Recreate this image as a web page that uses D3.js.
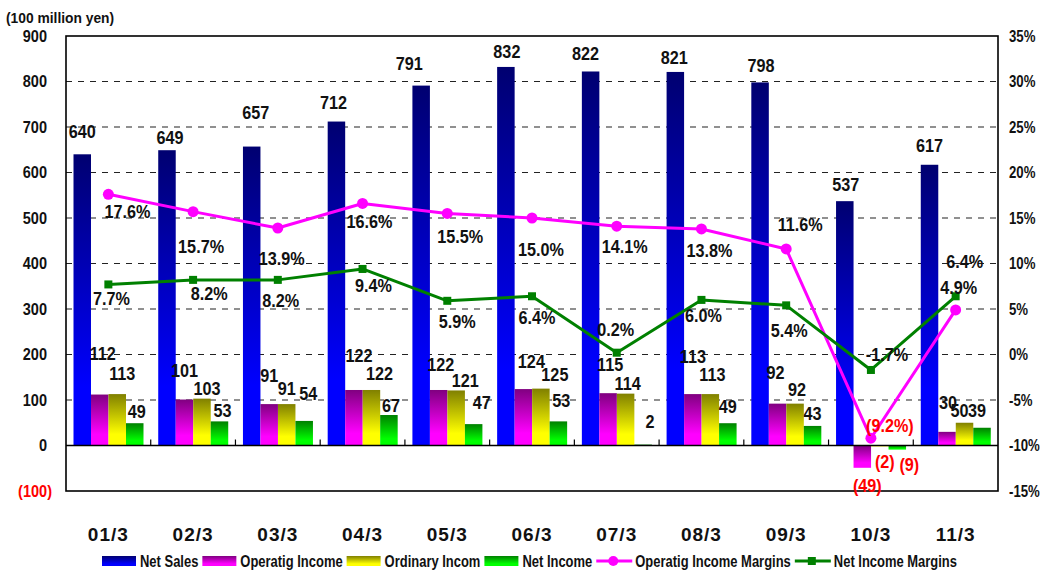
<!DOCTYPE html>
<html>
<head>
<meta charset="utf-8">
<script src="https://cdn.jsdelivr.net/npm/d3@7"></script>
<style>
  html, body { margin: 0; padding: 0; background: #ffffff; }
  svg { display: block; }
  text { font-family: 'Liberation Sans', Arial, sans-serif; font-weight: bold; fill: #111; }
</style>
</head>
<body>
<svg id="chart" width="1051" height="574"></svg>
<script>
// ---- data (100 million yen / %) ----
const categories = ["01/3", "02/3", "03/3", "04/3", "05/3", "06/3", "07/3", "08/3", "09/3", "10/3", "11/3"];
const netSales = [640, 649, 657, 712, 791, 832, 822, 821, 798, 537, 617];
const operatingIncome = [112, 101, 91, 122, 122, 124, 115, 113, 92, -49, 30];
const ordinaryIncome = [113, 103, 91, 122, 121, 125, 114, 113, 92, -2, 50];
const netIncome = [49, 53, 54, 67, 47, 53, 2, 49, 43, -9, 39];
const operatingMargin = [17.6, 15.7, 13.9, 16.6, 15.5, 15.0, 14.1, 13.8, 11.6, -9.2, 4.9];
const netMargin = [7.7, 8.2, 8.2, 9.4, 5.9, 6.4, 0.2, 6.0, 5.4, -1.7, 6.4];

const leftTicks = [900, 800, 700, 600, 500, 400, 300, 200, 100, 0, -100];
const leftTickLabels = ["900", "800", "700", "600", "500", "400", "300", "200", "100", "0", "(100)"];
const rightTicks = [35, 30, 25, 20, 15, 10, 5, 0, -5, -10, -15];
const rightTickLabels = ["35%", "30%", "25%", "20%", "15%", "10%", "5%", "0%", "-5%", "-10%", "-15%"];

const barSeries = ["Net Sales", "Operatig Income", "Ordinary Incom", "Net Income"];
const lineSeries = ["Operatig Income Margins", "Net Income Margins"];

// label nudges [dx, dy] from each mark's anchor, in pixels
const salesLabelShift = [[0,-23],[3,-13],[4,-34],[-3,-19],[-12,-22],[1,-15],[-5,-18],[-1,-14],[1,-17],[1,-17],[0,-19]];
const opLabelShift = [[3,-41],[0,-29],[0,-29],[5,-34],[2,-25],[8,-28],[2,-29],[0,-38],[-2,-31],[5,18],[1,-29]];
const ordLabelShift = [[5,-21],[5,-10],[0,-16],[8,-16],[9,-10],[14,-14],[2,-10],[2,-20],[2,-14],[5,15],[-5,-12]];
const netLabelShift = [[2,-12],[3,-11],[4,-27],[2,-9],[8,-22],[3,-21],[7,-23],[0,-17],[0,-12],[12,15],[-5,-17]];
const opMarginLabelShift = [[19,17],[8,35],[4,31],[7,18],[13,23],[9,32],[8,20],[8,22],[14,-24],[19,-13],[3,-22]];
const netMarginLabelShift = [[3,14],[16,14],[3,21],[11,17],[10,21],[5,21],[-1,-23],[2,16],[3,25],[16,-15],[9,-35]];

// ---- layout ----
const svg = d3.select("#chart");
const plot = { left: 66, right: 998, top: 36, bottom: 491 };

const x0 = d3.scaleBand().domain(categories).range([plot.left, plot.right]);
const x1 = d3.scaleBand().domain(barSeries).range([7.5, 77.5]);
const yL = d3.scaleLinear().domain([-100, 900]).range([plot.bottom, plot.top]);
const yR = d3.scaleLinear().domain([-15, 35]).range([plot.bottom, plot.top]);

const barColors = {
  "Net Sales": ["#000070", "#0000ff"],
  "Operatig Income": ["#800080", "#ff00ff"],
  "Ordinary Incom": ["#808000", "#ffff00"],
  "Net Income": ["#008000", "#00ff00"]
};
const lineColors = { "Operatig Income Margins": "#ff00ff", "Net Income Margins": "#008000" };

// horizontally condense text (narrow gothic look) by fixing its rendered length
function squeeze(sel, k) {
  sel.each(function () {
    const w = this.getComputedTextLength();
    this.setAttribute("textLength", (w * k).toFixed(2));
    this.setAttribute("lengthAdjust", "spacingAndGlyphs");
  });
  return sel;
}

// vertical gradients for the bars
const defs = svg.append("defs");
barSeries.forEach((s, i) => {
  const g = defs.append("linearGradient").attr("id", "grad" + i)
    .attr("x1", 0).attr("y1", 0).attr("x2", 0).attr("y2", 1);
  g.append("stop").attr("offset", "0%").attr("stop-color", barColors[s][0]);
  g.append("stop").attr("offset", i === 0 ? "80%" : "78%").attr("stop-color", barColors[s][1]);
  g.append("stop").attr("offset", "100%").attr("stop-color", barColors[s][1]);
});

svg.append("rect").attr("width", 1051).attr("height", 574).attr("fill", "#fff");

// dashed gridlines
svg.append("g").selectAll("line")
  .data(leftTicks.filter(v => v > 0 && v < 900))
  .join("line")
  .attr("x1", plot.left).attr("x2", plot.right)
  .attr("y1", d => yL(d)).attr("y2", d => yL(d))
  .attr("stroke", "#222").attr("stroke-width", 1.2)
  .attr("stroke-dasharray", "6,6");

// bars
const barData = [netSales, operatingIncome, ordinaryIncome, netIncome];
const barsG = svg.append("g");
barSeries.forEach((s, si) => {
  barsG.append("g").selectAll("rect")
    .data(categories.map((c, i) => ({ c, v: barData[si][i] })))
    .join("rect")
    .attr("x", d => x0(d.c) + x1(s))
    .attr("width", x1.bandwidth())
    .attr("y", d => yL(Math.max(0, d.v)))
    .attr("height", d => Math.abs(yL(d.v) - yL(0)))
    .attr("fill", `url(#grad${si})`);
});

// zero line and category ticks
svg.append("line")
  .attr("x1", plot.left).attr("x2", plot.right)
  .attr("y1", yL(0)).attr("y2", yL(0))
  .attr("stroke", "#000").attr("stroke-width", 1.5);
svg.append("g").selectAll("line")
  .data(categories.slice(1))
  .join("line")
  .attr("x1", d => x0(d)).attr("x2", d => x0(d))
  .attr("y1", yL(0)).attr("y2", yL(0) - 6)
  .attr("stroke", "#000").attr("stroke-width", 1.2);

// frame
svg.append("rect")
  .attr("x", plot.left).attr("y", plot.top)
  .attr("width", plot.right - plot.left).attr("height", plot.bottom - plot.top)
  .attr("fill", "none").attr("stroke", "#000").attr("stroke-width", 1.6);

// margin lines
const cx = c => x0(c) + x0.bandwidth() / 2;
const lineData = [operatingMargin, netMargin];
lineSeries.forEach((s, si) => {
  const pts = categories.map((c, i) => ({ c, v: lineData[si][i] }));
  svg.append("path")
    .datum(pts)
    .attr("fill", "none")
    .attr("stroke", lineColors[s])
    .attr("stroke-width", 3)
    .attr("stroke-linejoin", "round")
    .attr("d", d3.line().x(d => cx(d.c)).y(d => yR(d.v)));
  const g = svg.append("g");
  if (si === 0) {
    g.selectAll("circle").data(pts).join("circle")
      .attr("cx", d => cx(d.c)).attr("cy", d => yR(d.v)).attr("r", 5.5)
      .attr("fill", lineColors[s]);
  } else {
    g.selectAll("rect").data(pts).join("rect")
      .attr("x", d => cx(d.c) - 4).attr("y", d => yR(d.v) - 4)
      .attr("width", 8).attr("height", 8)
      .attr("fill", lineColors[s]);
  }
});

// value labels
function addLabels(values, shifts, anchorX, anchorY, fmt, colorFn) {
  const t = svg.append("g").selectAll("text")
    .data(categories.map((c, i) => ({ c, v: values[i], s: shifts[i] })))
    .join("text")
    .attr("x", d => anchorX(d) + d.s[0])
    .attr("y", d => anchorY(d) + d.s[1])
    .attr("dy", "0.36em")
    .attr("text-anchor", "middle")
    .attr("font-size", 18)
    .style("fill", d => colorFn(d))
    .text(d => fmt(d.v));
  squeeze(t, 0.9);
}
const barLabelFmt = v => v < 0 ? `(${Math.abs(v)})` : `${v}`;
const barEnd = d => yL(d.v);
const negRed = d => d.v < 0 ? "#ff0000" : "#111";
const barMid = s => d => x0(d.c) + x1(s) + x1.bandwidth() / 2;

addLabels(netSales, salesLabelShift, barMid("Net Sales"), barEnd, barLabelFmt, negRed);
addLabels(operatingIncome, opLabelShift, barMid("Operatig Income"), barEnd, barLabelFmt, negRed);
addLabels(ordinaryIncome, ordLabelShift, barMid("Ordinary Incom"), barEnd, barLabelFmt, negRed);
addLabels(netIncome, netLabelShift, barMid("Net Income"), barEnd, barLabelFmt, negRed);
addLabels(operatingMargin, opMarginLabelShift, d => cx(d.c), d => yR(d.v),
  v => v < 0 ? `(${Math.abs(v).toFixed(1)}%)` : `${v.toFixed(1)}%`, negRed);
addLabels(netMargin, netMarginLabelShift, d => cx(d.c), d => yR(d.v),
  v => `${v.toFixed(1)}%`, () => "#111");

// left axis labels
const leftLab = svg.append("g").selectAll("text")
  .data(leftTicks.map((v, i) => ({ v, t: leftTickLabels[i] })))
  .join("text")
  .attr("x", d => d.v < 0 ? 52 : 47)
  .attr("y", d => yL(d.v))
  .attr("dy", "0.36em")
  .attr("text-anchor", "end")
  .attr("font-size", 16.5)
  .style("fill", d => d.v < 0 ? "#ff0000" : "#111")
  .text(d => d.t);
squeeze(leftLab, 0.88);

// right axis labels
const rightLab = svg.append("g").selectAll("text")
  .data(rightTicks.map((v, i) => ({ v, t: rightTickLabels[i] })))
  .join("text")
  .attr("x", 1009)
  .attr("y", d => yR(d.v))
  .attr("dy", "0.36em")
  .attr("font-size", 16.5)
  .text(d => d.t);
squeeze(rightLab, 0.8);

// category labels
const catLab = svg.append("g").selectAll("text")
  .data(categories)
  .join("text")
  .attr("x", d => cx(d))
  .attr("y", 534)
  .attr("dy", "0.36em")
  .attr("text-anchor", "middle")
  .attr("font-size", 19)
  .attr("letter-spacing", 1)
  .text(d => d);

// unit caption
squeeze(svg.append("text")
  .attr("x", 6).attr("y", 18).attr("dy", "0.36em")
  .attr("font-size", 15)
  .text("(100 million yen)"), 0.92);

// legend
const legend = svg.append("g");
let lx = 102;
const ly = 561;
function legendText(s) {
  const t = legend.append("text").attr("x", lx).attr("y", ly).attr("dy", "0.36em")
    .attr("font-size", 16).text(s);
  const w = t.node().getComputedTextLength() * 0.81;
  t.attr("textLength", w.toFixed(2)).attr("lengthAdjust", "spacingAndGlyphs");
  lx += w + 4;
}
barSeries.forEach((s, si) => {
  legend.append("rect").attr("x", lx).attr("y", ly - 5).attr("width", 34).attr("height", 10)
    .attr("fill", `url(#grad${si})`);
  lx += 38;
  legendText(s);
});
lineSeries.forEach((s, si) => {
  legend.append("line").attr("x1", lx).attr("x2", lx + 36).attr("y1", ly).attr("y2", ly)
    .attr("stroke", lineColors[s]).attr("stroke-width", 3);
  if (si === 0) {
    legend.append("circle").attr("cx", lx + 17).attr("cy", ly).attr("r", 5).attr("fill", lineColors[s]);
  } else {
    legend.append("rect").attr("x", lx + 13).attr("y", ly - 4).attr("width", 8).attr("height", 8).attr("fill", lineColors[s]);
  }
  lx += 39;
  legendText(s);
});
</script>
</body>
</html>
